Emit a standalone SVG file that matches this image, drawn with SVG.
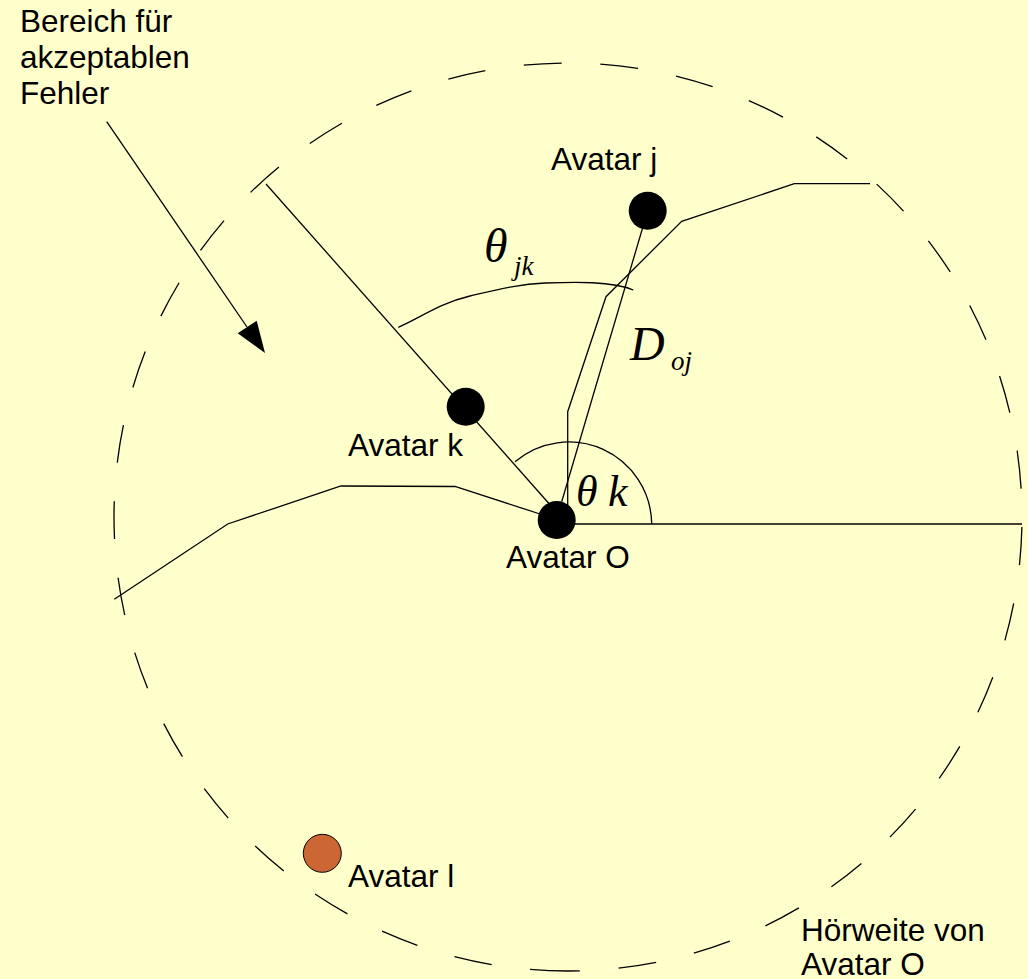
<svg xmlns="http://www.w3.org/2000/svg" width="1028" height="979" viewBox="0 0 1028 979">
<defs>
<style>
.ln{fill:none;stroke:#000;stroke-width:1.3}
.av{fill:#000}
.lbl{font-family:"Liberation Sans",Arial,sans-serif;font-size:31.5px;fill:#000}
.math{font-family:"Liberation Serif","Times New Roman",serif;font-style:italic;fill:#000}
</style>
</defs>
<rect x="0" y="0" width="1028" height="979" fill="#FFFFCC"/>
<g id="hearing-range">
<path class="ln" stroke-dasharray="38 38.76" d="M568 971 A454 454 0 0 1 114 517 A454 454 0 0 1 568 63 A454 454 0 0 1 1022 517 A454 454 0 0 1 568 971"/>
</g>
<g id="connectors">
<line class="ln" x1="106.7" y1="121.7" x2="247" y2="327"/>
<polygon points="265,353 237.7,333.3 256.7,320.7" fill="#000"/>
<line class="ln" x1="266" y1="184" x2="552" y2="507"/>
<line class="ln" x1="647.7" y1="210.7" x2="561.7" y2="501.7"/>
<polyline class="ln" points="567.7,524 567.7,411.7 606,296.7 681.7,221.3 794.3,183.7 870,183.7"/>
<polyline class="ln" points="114.3,599.3 227.7,524 341,486 455,486.5 540,514 556,520"/>
<line class="ln" x1="560" y1="524" x2="1022" y2="524"/>
<path class="ln" d="M398.3 327.3 C420 318 440 303 470 296 C500 289 520 284 545 283 C575 282 612 281 633.3 290"/>
<path class="ln" d="M515 461.7 A83 83 0 0 1 651.7 524"/>
</g>
<g id="avatar-O">
<circle class="av" cx="556.7" cy="520" r="19"/>
<text class="lbl" x="506" y="568">Avatar O</text>
</g>
<g id="avatar-k">
<circle class="av" cx="465.7" cy="406.7" r="19"/>
<text class="lbl" x="348" y="456">Avatar k</text>
</g>
<g id="avatar-j">
<circle class="av" cx="647.7" cy="210.7" r="19"/>
<text class="lbl" x="551" y="170">Avatar j</text>
</g>
<g id="avatar-l">
<circle cx="322.3" cy="853.3" r="19" fill="#CC6633" stroke="#000" stroke-width="1"/>
<text class="lbl" x="348" y="887">Avatar l</text>
</g>
<g id="error-label">
<text class="lbl" x="20" y="32">Bereich für</text>
<text class="lbl" x="20" y="68">akzeptablen</text>
<text class="lbl" x="20" y="104">Fehler</text>
</g>
<g id="range-label">
<text class="lbl" x="801" y="941">Hörweite von</text>
<text class="lbl" x="801" y="975">Avatar O</text>
</g>
<g id="theta-jk">
<text class="math" x="484" y="262" font-size="48">θ<tspan x="514" y="275" font-size="27">jk</tspan></text>
</g>
<g id="D-oj">
<text class="math" x="630" y="360" font-size="48">D<tspan x="671" y="370" font-size="27">oj</tspan></text>
</g>
<g id="theta-k">
<text class="math" x="576" y="506" font-size="44">θ <tspan x="608">k</tspan></text>
</g>
</svg>
